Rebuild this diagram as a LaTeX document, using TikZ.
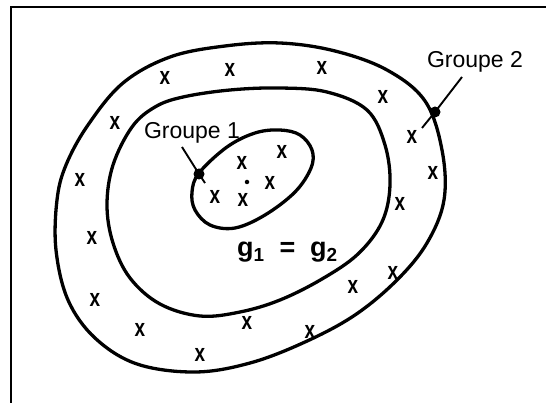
\documentclass[tikz,border=0pt]{standalone}
\usepackage{fontspec}
\setmainfont{Liberation Sans}
\begin{document}
\begin{tikzpicture}[x=1pt,y=-1pt,
    grpCurve/.style={line width=3.3pt,line join=round},
    grpMark/.style={font=\fontsize{19}{19}\selectfont\bfseries,inner sep=0pt},
    grpLabel/.style={font=\fontsize{23}{23}\selectfont,inner sep=0pt},
    grpDot/.style={fill=black,circle,inner sep=0pt,minimum size=11pt},
    grpLead/.style={line width=1.9pt},
]
\useasboundingbox (0,0) rectangle (546,403);
% Frame
\draw[line width=1.6pt] (11,403) -- (11,7) -- (546,7);
% Outer boundary
\draw[grpCurve] plot[smooth cycle,tension=0.6] coordinates {
  (170,57) (225,46) (280,43) (335,51) (387,70) (425,101) (442,150)
  (444,200) (427,243) (397,280) (355,315) (305,342) (250,363) (195,372)
  (137,364) (95,338) (68,300) (56,250) (57,200) (66,165) (88,125) (123,83)};
% Middle boundary
\draw[grpCurve] plot[smooth cycle,tension=0.6] coordinates {
  (183,97) (230,90) (280,88) (327,92) (367,110) (385,145) (390,185)
  (382,222) (358,254) (322,279) (280,300) (240,312) (200,316) (160,304)
  (130,278) (113,243) (107,205) (113,165) (132,127) (155,107)};
% Inner boundary
\draw[grpCurve] plot[smooth cycle,tension=0.6] coordinates {
  (199,173) (227,147) (255,133) (280,130) (300,135) (312,150) (311,168)
  (295,192) (265,215) (235,228) (210,225) (195,210) (192,192)};
% Points
\foreach \px/\py [count=\k] in {165/78,230/70,322/68,383/97,115/123,412/137,
    80/180,433/173,400/204,92/238,95/300,353/287,393/273,140/330,247/323,
    310/332,200/355,242/163,282/152,270/183,215/197,243/200}
  \node[grpMark] (m\k) at (\px,\py) {\scalebox{1}[1.3]{x}};
\node[grpDot,minimum size=4.5pt] (c1) at (247,182) {};
% Labels
\node[grpLabel] (grp1) at (192,133) {Groupe 1};
\node[grpLabel] (grp2) at (475,62) {Groupe 2};
\node[grpDot] (dot1) at (199,174) {};
\node[grpDot] (dot2) at (435,112) {};
\coordinate (lead1a) at (182,147);
\coordinate (lead1b) at (205,183);
\coordinate (lead2a) at (462,77);
\coordinate (lead2b) at (422,128);
\draw[grpLead] (lead1a) -- (dot1.center) -- (lead1b);
\draw[grpLead] (lead2a) -- (dot2.center) -- (lead2b);
\node[font=\fontsize{27}{27}\selectfont\bfseries,inner sep=0pt,anchor=base west] (eq) at (237,257)
  {g\textsubscript{1}\hspace{0.55em}=\hspace{0.55em}g\textsubscript{2}};
\end{tikzpicture}
\end{document}
